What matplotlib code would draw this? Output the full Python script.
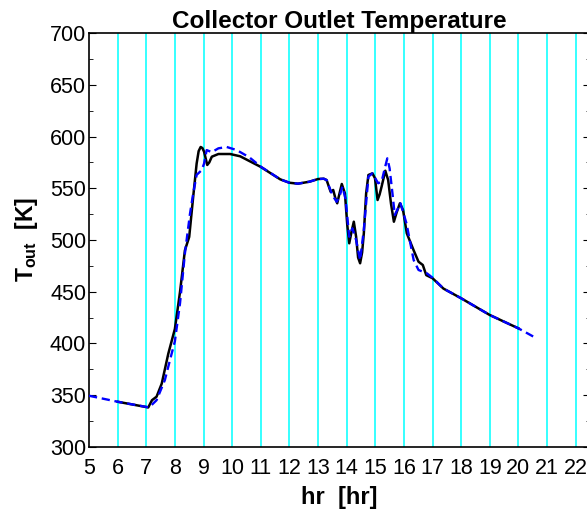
"""
Collector outlet temperature over the day
black = measured, blue dashed = model
"""
import numpy as np
import matplotlib
matplotlib.use('Agg')
import matplotlib.pyplot as plt
from matplotlib.ticker import MultipleLocator

plt.rcParams['font.family'] = ['Liberation Sans', 'DejaVu Sans']
plt.rcParams['mathtext.fontset'] = 'custom'
plt.rcParams['mathtext.rm'] = 'Liberation Sans'
plt.rcParams['mathtext.bf'] = 'Liberation Sans:bold'

# values
hr_black = [6.0, 7.07, 7.2, 7.36, 7.54, 7.77, 8.0, 8.18, 8.35, 8.5, 8.64, 8.76,
            8.83, 8.9, 8.96, 9.02, 9.13, 9.2, 9.29, 9.52, 9.93, 10.28, 10.98,
            11.68, 12.0, 12.3, 12.7, 13.0, 13.2, 13.3, 13.44, 13.53, 13.6, 13.67,
            13.75, 13.83, 13.94, 14.02, 14.09, 14.17, 14.25, 14.33, 14.4, 14.47,
            14.54, 14.6, 14.68, 14.76, 14.9, 14.99, 15.08, 15.15, 15.22, 15.35,
            15.45, 15.55, 15.65, 15.75, 15.86, 15.97, 16.1, 16.34, 16.51, 16.66,
            16.78, 17.0, 17.38, 18.0, 19.0, 20.0]
t_black = [343.5, 338.0, 345.0, 348.4, 361.0, 390.0, 414.0, 450.0, 490.0, 503.0,
           542.0, 574.0, 586.0, 590.0, 589.0, 585.4, 572.6, 575.0, 580.6, 583.2,
           583.2, 581.0, 571.0, 558.7, 555.4, 554.5, 556.4, 559.0, 559.3, 558.0,
           546.7, 548.4, 541.0, 535.5, 545.0, 554.2, 545.0, 515.0, 496.8, 508.0,
           517.7, 503.2, 483.0, 477.5, 488.0, 506.5, 545.0, 562.9, 564.5, 559.7,
           538.7, 544.0, 551.6, 567.0, 558.0, 535.0, 517.7, 527.0, 535.5, 529.0,
           506.5, 490.0, 479.0, 475.8, 466.0, 463.0, 453.0, 443.6, 427.4, 414.5]

hr_blue = [5.0, 6.0, 7.1, 7.36, 7.65, 7.83, 8.0, 8.18, 8.35, 8.53, 8.64, 8.76,
           8.94, 9.02, 9.11, 9.29, 9.52, 9.81, 10.16, 10.6, 11.0, 11.68, 12.0,
           12.3, 12.7, 13.0, 13.2, 13.3, 13.5, 13.65, 13.75, 13.85, 13.96,
           14.09, 14.2, 14.33, 14.47, 14.6, 14.76, 14.9, 15.1, 15.22, 15.32,
           15.42, 15.5, 15.6, 15.68, 15.88, 16.09, 16.34, 16.51, 16.8, 17.0,
           17.38, 18.0, 19.0, 20.0, 20.59]
t_blue = [349.3, 343.5, 338.0, 345.0, 364.5, 384.0, 402.0, 439.0, 487.0, 525.8,
          545.0, 563.0, 567.7, 574.0, 587.0, 585.0, 588.7, 590.0, 587.0, 580.0,
          571.0, 558.7, 555.4, 554.5, 556.4, 559.0, 559.3, 558.0, 543.5, 537.0,
          542.0, 551.6, 540.0, 503.2, 511.3, 500.0, 480.6, 510.0, 561.3, 564.5,
          554.9, 556.4, 568.0, 579.0, 569.4, 545.0, 524.2, 535.5, 516.0, 480.6,
          471.0, 467.8, 463.5, 453.0, 443.6, 427.4, 414.5, 405.5]

fig = plt.figure(figsize=(5.87, 5.12), dpi=100)
ax = fig.add_axes([89 / 587, 1 - 446.7 / 512, (590 - 89) / 587, (446.7 - 33.3) / 512])

for h in range(6, 23):
    ax.axvline(h, color='#00FFFF', lw=1.1, zorder=1)

ax.plot(hr_black, t_black, color='black', lw=1.8, zorder=3)
ax.plot(hr_blue, t_blue, color='#0000FF', lw=1.7, ls=(0, (3.5, 2)), zorder=4)

ax.set_xlim(5, 22.5)
ax.set_ylim(300, 700)
ax.set_xticks(range(5, 23))
ax.yaxis.set_major_locator(MultipleLocator(50))
ax.yaxis.set_minor_locator(MultipleLocator(25))
ax.tick_params(axis='x', length=0, pad=8, labelsize=15.5)
ax.tick_params(axis='y', which='major', direction='in', length=5, right=True,
               labelsize=15.5, pad=2)
ax.tick_params(axis='y', which='minor', direction='in', length=3, right=True)
for s in ax.spines.values():
    s.set_linewidth(1.2)

ax.set_title('Collector Outlet Temperature', fontsize=17.5, fontweight='bold', pad=4)
ax.set_xlabel('hr  [hr]', fontsize=17, fontweight='bold', labelpad=5)
ax.set_ylabel(r'$\mathbf{T}_{\mathbf{out}}$  [K]', fontsize=16.5, fontweight='bold', labelpad=7)

fig.savefig('out.png', dpi=100)
